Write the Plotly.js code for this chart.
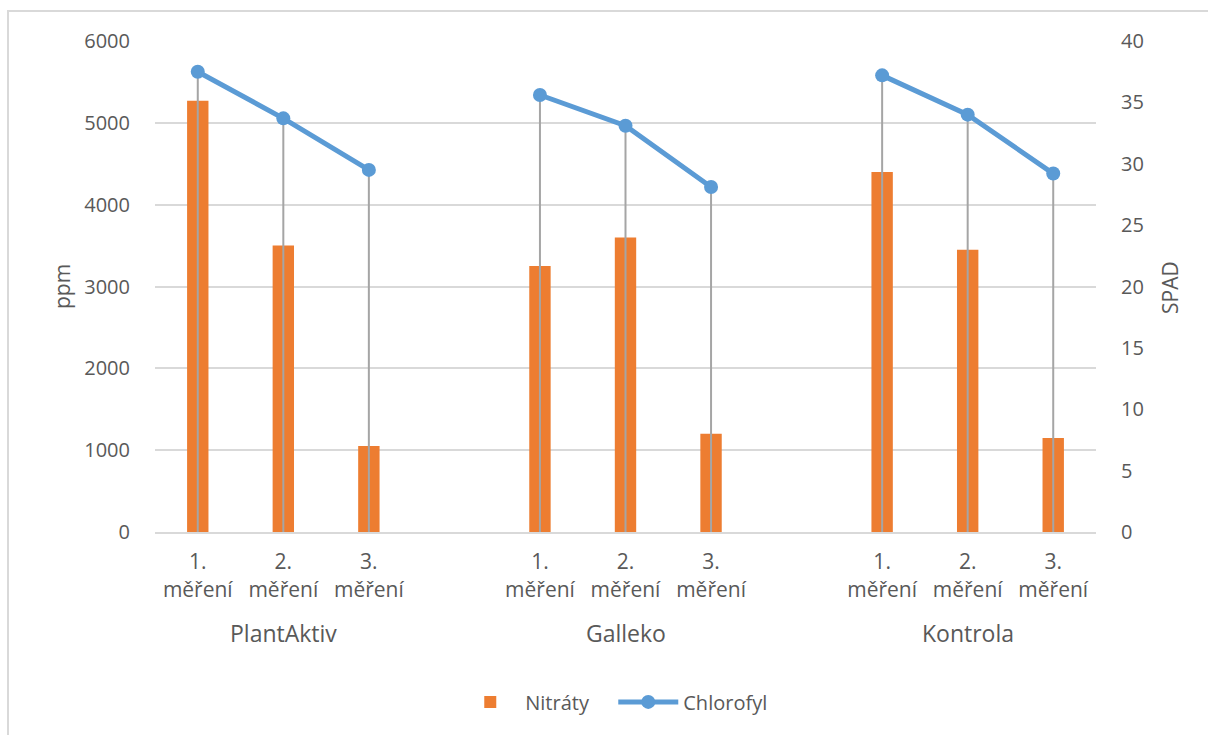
<!DOCTYPE html>
<html>
<head>
<meta charset="utf-8">
<script src="https://cdn.plot.ly/plotly-3.0.1.min.js"></script>
<style>
html,body{margin:0;padding:0;background:#fff;}
#chart{width:1208px;height:735px;}
</style>
</head>
<body>
<div id="chart"></div>
<script>
// ---- data ----
const groups = ["PlantAktiv", "Galleko", "Kontrola"];
const measurements = ["1.<br>měření", "2.<br>měření", "3.<br>měření"];
const nitraty = [5270, 3500, 1050, 3250, 3600, 1200, 4400, 3450, 1150];      // ppm
const chlorofyl = [37.5, 33.7, 29.5, 35.6, 33.1, 28.1, 37.2, 34.0, 29.2];     // SPAD

// ---- build positions (one empty category between groups) ----
const step = measurements.length + 1;
const xs = [], ticktext = [];
groups.forEach((g, gi) => measurements.forEach((m, mi) => { xs.push(gi * step + mi); ticktext.push(m); }));

// line with gaps at blank categories
const lineX = [], lineY = [];
const nSlots = groups.length * step - 1;
for (let p = 0; p < nSlots; p++) {
  lineX.push(p);
  const k = xs.indexOf(p);
  lineY.push(k >= 0 ? chlorofyl[k] : null);
}
// drop lines
const dropX = [], dropY = [];
xs.forEach((x, i) => { dropX.push(x, x, null); dropY.push(0, chlorofyl[i], null); });

const FONT = "Open Sans, Lato, sans-serif";
const GREY = "#595959";

const traces = [
  { type: "bar", name: "Nitráty", x: xs, y: nitraty, width: 0.25,
    marker: { color: "#ED7D31" }, yaxis: "y", hoverinfo: "y" },
  { type: "scatter", mode: "lines", x: dropX, y: dropY, yaxis: "y2",
    line: { color: "#A5A5A5", width: 2 }, showlegend: false, hoverinfo: "skip" },
  { type: "scatter", mode: "lines+markers", name: "Chlorofyl", x: lineX, y: lineY, yaxis: "y2",
    connectgaps: false, line: { color: "#5B9BD5", width: 5 },
    marker: { color: "#5B9BD5", size: 14 } }
];

const annotations = groups.map((g, gi) => ({
  text: g, x: gi * step + (measurements.length - 1) / 2, xref: "x",
  y: -0.206, yref: "paper", yanchor: "middle", showarrow: false,
  font: { family: FONT, size: 23, color: GREY }
}));
annotations.push({ text: "ppm", textangle: -90, x: -0.0988, xref: "paper", xanchor: "center",
  y: 0.499, yref: "paper", yanchor: "middle", showarrow: false, font: { family: FONT, size: 21, color: GREY } });
annotations.push({ text: "SPAD", textangle: -90, x: 1.0786, xref: "paper", xanchor: "center",
  y: 0.499, yref: "paper", yanchor: "middle", showarrow: false, font: { family: FONT, size: 21, color: GREY } });

const layout = {
  width: 1208, height: 735,
  margin: { l: 155, r: 112, t: 41, b: 203 },
  paper_bgcolor: "#fff", plot_bgcolor: "#fff",
  font: { family: FONT, size: 20, color: GREY },
  showlegend: true,
  legend: { orientation: "h", x: 0.487, xanchor: "center", y: -0.346, yanchor: "middle",
    font: { family: FONT, size: 20, color: GREY }, traceorder: "normal",
    itemwidth: 60, entrywidth: 83, entrywidthmode: "pixels" },
  xaxis: { range: [-0.5, nSlots - 0.5], tickmode: "array", tickvals: xs, ticktext: ticktext,
    showgrid: false, zeroline: false, showline: true, linecolor: "#D9D9D9", linewidth: 2,
    ticks: "", ticklabelstandoff: 10, tickfont: { family: FONT, size: 21, color: GREY }, fixedrange: true },
  yaxis: { range: [0, 6000], dtick: 1000, tick0: 0, showgrid: true, gridcolor: "#D9D9D9", gridwidth: 2,
    zeroline: false, showline: false, ticks: "", ticklabelstandoff: 24,
    tickfont: { family: FONT, size: 20, color: GREY } },
  yaxis2: { range: [0, 40], dtick: 5, tick0: 0, overlaying: "y", side: "right", showgrid: false,
    zeroline: false, showline: false, ticks: "", ticklabelstandoff: 24,
    tickfont: { family: FONT, size: 20, color: GREY } },
  annotations: annotations,
  shapes: [{ type: "rect", xref: "paper", yref: "paper", x0: -0.1562, x1: 1.13, y0: -0.45, y1: 1.0611,
    line: { color: "#D9D9D9", width: 2 }, fillcolor: "rgba(0,0,0,0)", layer: "below" }]
};

Plotly.newPlot("chart", traces, layout, { displayModeBar: false, staticPlot: true });
</script>
</body>
</html>
